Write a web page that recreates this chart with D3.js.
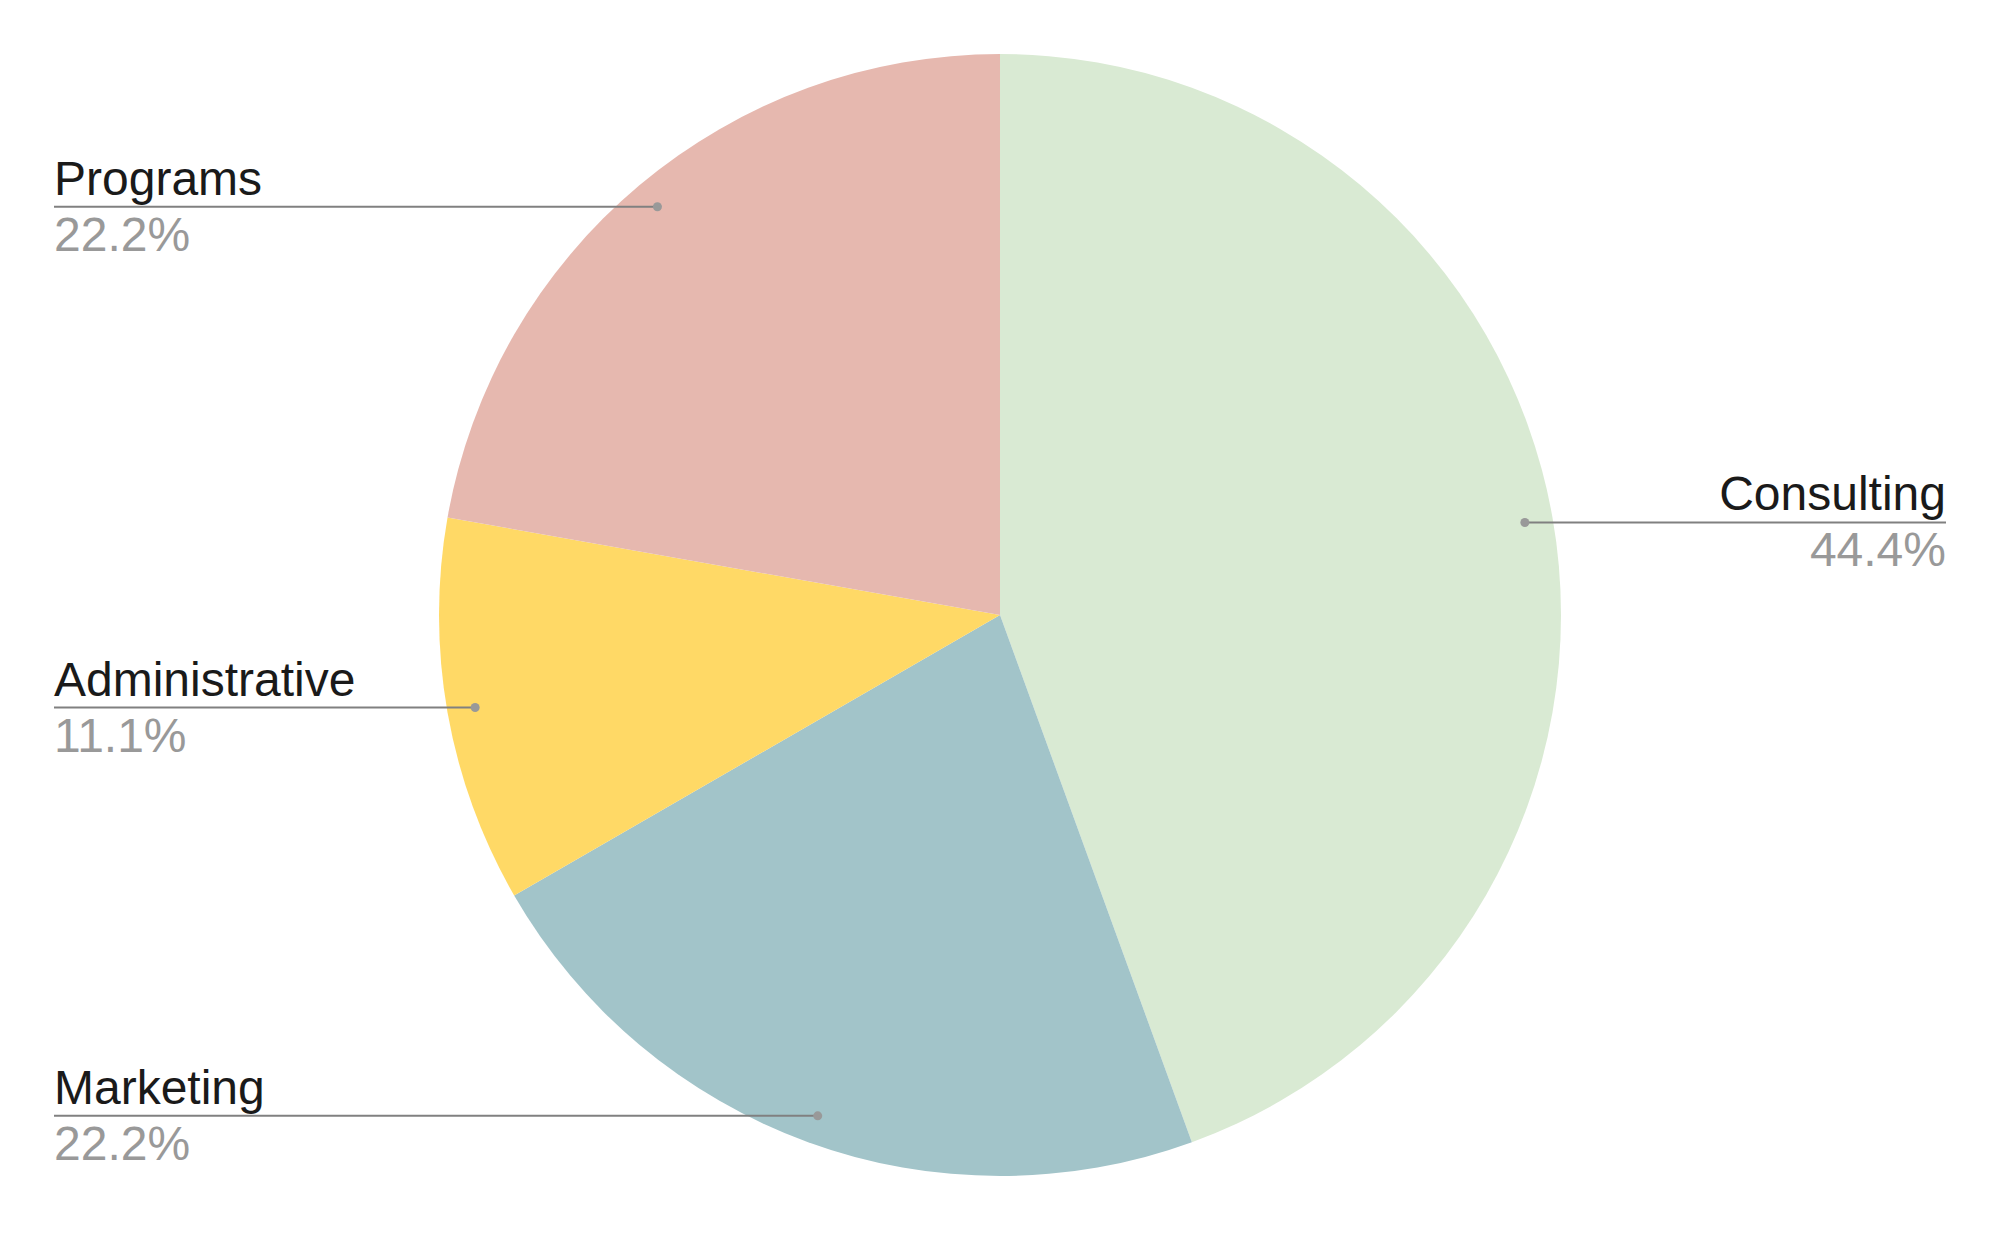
<!DOCTYPE html>
<html>
<head>
<meta charset="utf-8">
<script src="https://cdn.jsdelivr.net/npm/d3@7"></script>
<style>
  body { margin: 0; background: #fff; }
  svg { display: block; font-family: "Liberation Sans", Arial, sans-serif; }
</style>
</head>
<body>
<script>
// slices, clockwise from 12 o'clock
var categories = ["Consulting", "Marketing", "Administrative", "Programs"];
var values = [4, 2, 1, 2];
var colors = ["#d9ead3", "#a2c4c9", "#ffd966", "#e6b8af"];

var width = 2000, height = 1236;
var cx = 1000, cy = 615, radius = 561;
var leftX = 54, rightX = 1946;

var svg = d3.select("body").append("svg")
  .attr("width", width)
  .attr("height", height);

var total = d3.sum(values);
var data = categories.map(function(c, i) {
  return { name: c, value: values[i], color: colors[i] };
});

var pie = d3.pie()
  .sort(null)
  .value(function(d) { return d.value; });

var arc = d3.arc().innerRadius(0).outerRadius(radius);

var g = svg.append("g").attr("transform", "translate(" + cx + "," + cy + ")");
var arcs = pie(data);

g.selectAll("path.slice")
  .data(arcs)
  .enter()
  .append("path")
  .attr("class", "slice")
  .attr("d", arc)
  .attr("fill", function(d) { return d.data.color; });

// labels
var fmt = d3.format(".1%");
var r2 = radius * 0.95;

arcs.forEach(function(d) {
  var mid = (d.startAngle + d.endAngle) / 2;
  var px = cx + Math.sin(mid) * r2;
  var py = cy - Math.cos(mid) * r2;
  var right = Math.sin(mid) > 0;
  var endX = right ? rightX : leftX;

  svg.append("line")
    .attr("x1", px).attr("y1", py)
    .attr("x2", endX).attr("y2", py)
    .attr("stroke", "#808080")
    .attr("stroke-width", 2);

  svg.append("circle")
    .attr("cx", px).attr("cy", py)
    .attr("r", 4.5)
    .attr("fill", "#999");

  svg.append("text")
    .attr("x", endX).attr("y", py - 12)
    .attr("text-anchor", right ? "end" : "start")
    .attr("font-size", 48)
    .attr("fill", "#1a1a1a")
    .text(d.data.name);

  svg.append("text")
    .attr("x", endX).attr("y", py + 44)
    .attr("text-anchor", right ? "end" : "start")
    .attr("font-size", 48)
    .attr("fill", "#999999")
    .text(fmt(d.data.value / total));
});
</script>
</body>
</html>
